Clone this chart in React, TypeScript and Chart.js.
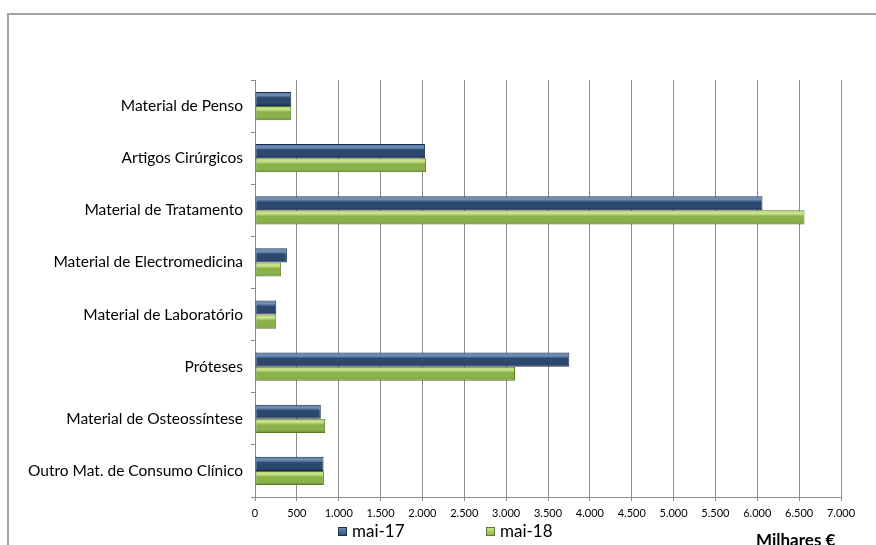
import React, { useEffect, useRef } from "react";
import { Chart, registerables } from "chart.js";

Chart.register(...registerables);

const categories = [
  "Material de Penso",
  "Artigos Cirúrgicos",
  "Material de Tratamento",
  "Material de Electromedicina",
  "Material de Laboratório",
  "Próteses",
  "Material de Osteossíntese",
  "Outro Mat. de Consumo Clínico",
];
const seriesNames = ["mai-17", "mai-18"];
const mai17 = [433, 2032, 6062, 381, 254, 3755, 786, 819];
const mai18 = [433, 2044, 6564, 313, 254, 3106, 838, 823];
const xMin = 0;
const xMax = 7000;
const xStep = 500;
const unitLabel = "Milhares €";

const FONT = "Lato, 'Open Sans', sans-serif";

const fmt = (v: number) =>
  String(v).replace(/\B(?=(\d{3})+(?!\d))/g, ".");

const palettes = [
  { top: "#4f6e97", hi: "#7393bd", mid: "#2d486e", bot: "#1c3050", border: "#1b2e4c" },
  { top: "#a6ca66", hi: "#cde891", mid: "#8bb24a", bot: "#688932", border: "#5a7829" },
];

const gradientPlugin = {
  id: "bevelBars",
  beforeDatasetsDraw(chart: any) {
    const ctx = chart.ctx;
    chart.data.datasets.forEach((ds: any, i: number) => {
      const meta = chart.getDatasetMeta(i);
      const p = palettes[i];
      meta.data.forEach((bar: any) => {
        const h = bar.height;
        const y0 = bar.y - h / 2;
        const g = ctx.createLinearGradient(0, y0, 0, y0 + h);
        g.addColorStop(0, p.top);
        g.addColorStop(0.22, p.hi);
        g.addColorStop(0.42, p.mid);
        g.addColorStop(0.8, p.mid);
        g.addColorStop(1, p.bot);
        bar.options = { ...bar.options, backgroundColor: g };
      });
    });
  },
};

const extrasPlugin = {
  id: "extras",
  afterDraw(chart: any) {
    const ctx = chart.ctx;
    ctx.save();
    const items = [
      { x: 338, label: chart.data.datasets[0].label, c: palettes[0] },
      { x: 486, label: chart.data.datasets[1].label, c: palettes[1] },
    ];
    items.forEach((it) => {
      const g = ctx.createLinearGradient(0, 527, 0, 536);
      g.addColorStop(0, it.c.hi);
      g.addColorStop(1, it.c.mid);
      ctx.fillStyle = g;
      ctx.fillRect(it.x, 527, 9, 9);
      ctx.strokeStyle = it.c.border;
      ctx.lineWidth = 1;
      ctx.strokeRect(it.x + 0.5, 527.5, 8, 8);
      ctx.fillStyle = "#000";
      ctx.font = `17px ${FONT}`;
      ctx.textBaseline = "middle";
      ctx.textAlign = "left";
      ctx.fillText(it.label, it.x + 14, 532);
    });
    ctx.font = `bold 17px ${FONT}`;
    ctx.textAlign = "left";
    ctx.textBaseline = "middle";
    ctx.fillStyle = "#000";
    ctx.fillText(unitLabel, 756, 541);
    ctx.restore();
  },
};

export default function App() {
  const ref = useRef<HTMLCanvasElement>(null);
  useEffect(() => {
    const chart = new Chart(ref.current!, {
      type: "bar",
      data: {
        labels: categories,
        datasets: [
          {
            label: seriesNames[0],
            data: mai17,
            backgroundColor: (c: any) => palettes[c.datasetIndex].mid,
            borderColor: palettes[0].border,
            borderWidth: 1,
            borderSkipped: false,
          },
          {
            label: seriesNames[1],
            data: mai18,
            backgroundColor: (c: any) => palettes[c.datasetIndex].mid,
            borderColor: palettes[1].border,
            borderWidth: 1,
            borderSkipped: false,
          },
        ],
      },
      options: {
        indexAxis: "y",
        animation: false,
        responsive: false,
        maintainAspectRatio: false,
        layout: { padding: { left: 0, top: 80, right: 35, bottom: 26 } },
        plugins: {
          legend: { display: false },
          tooltip: { enabled: false },
        },
        datasets: {
          bar: { categoryPercentage: 0.54, barPercentage: 1 },
        },
        scales: {
          x: {
            min: xMin,
            max: xMax,
            ticks: {
              stepSize: xStep,
              callback: (v: any) => fmt(Number(v)),
              font: { family: FONT, size: 11 },
              color: "#000",
              maxRotation: 0,
              minRotation: 0,
              autoSkip: false,
              padding: 6,
            },
            grid: {
              color: "#8c8c8c",
              lineWidth: 1,
              drawTicks: true,
              tickLength: 4,
              tickColor: "#8c8c8c",
            },
            border: { color: "#8c8c8c", width: 1 },
            afterFit: (s: any) => {
              s.height = 22;
            },
          },
          y: {
            ticks: {
              font: { family: FONT, size: 15.5 },
              color: "#000",
              padding: 8,
            },
            grid: {
              drawOnChartArea: false,
              drawTicks: true,
              tickLength: 4,
              color: "#8c8c8c",
              offset: true,
            },
            border: { color: "#8c8c8c", width: 1 },
            afterFit: (s: any) => {
              s.width = 255;
            },
          },
        },
      },
      plugins: [gradientPlugin, extrasPlugin],
    } as any);
    return () => chart.destroy();
  }, []);
  return (
    <div style={{ position: "fixed", left: 0, top: 0, width: 876, height: 545, background: "#fff", overflow: "hidden" }}>
      <div
        style={{
          position: "absolute",
          left: 7,
          top: 13,
          width: 1000,
          height: 1000,
          borderLeft: "2px solid #a3a3a3",
          borderTop: "2px solid #a3a3a3",
        }}
      />
      <canvas ref={ref} width={876} height={545} style={{ position: "absolute", left: 0, top: 0 }} />
    </div>
  );
}
